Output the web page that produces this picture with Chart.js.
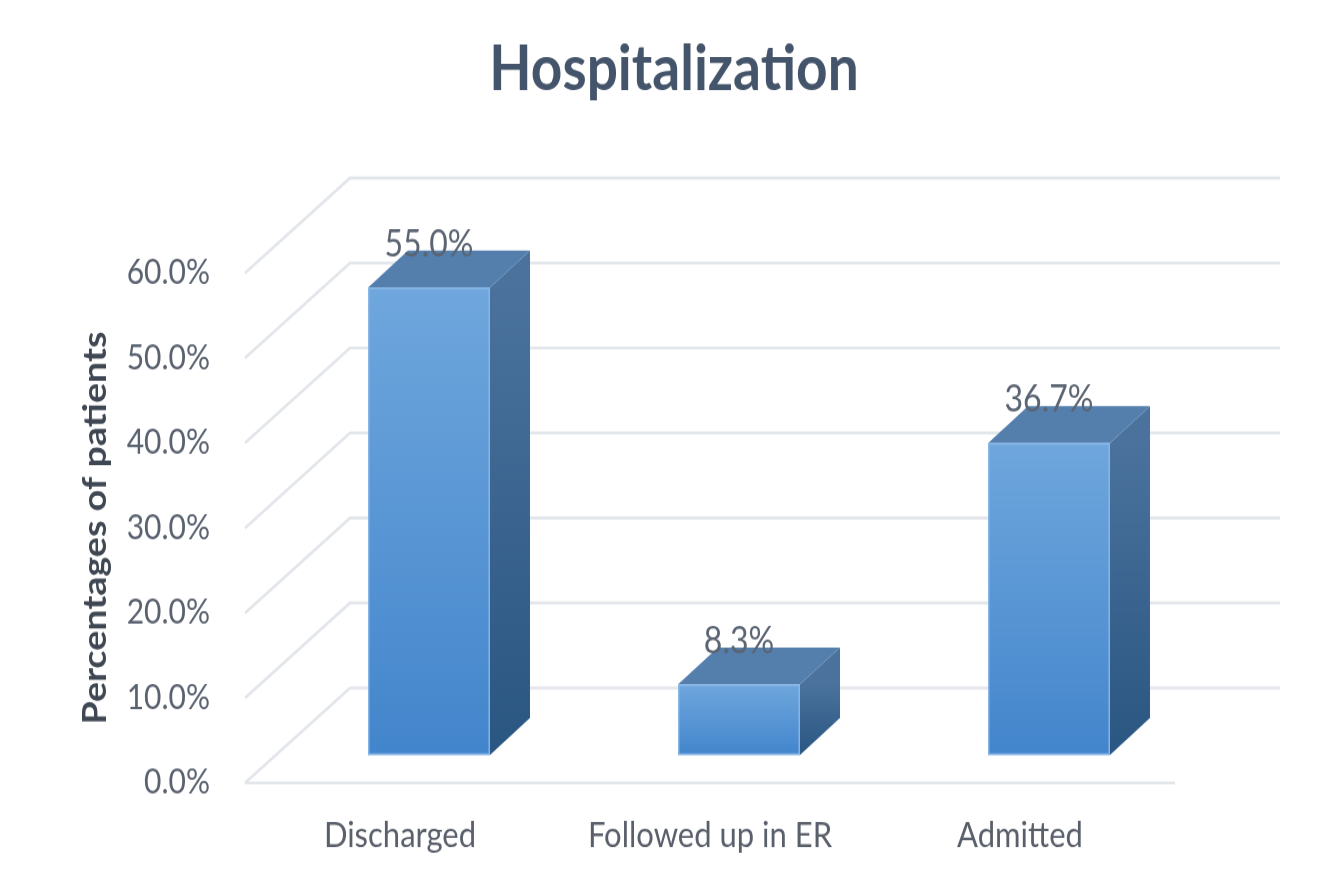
<!DOCTYPE html>
<html><head><meta charset="utf-8">
<script src="https://cdn.jsdelivr.net/npm/chart.js@4.4.1/dist/chart.umd.min.js"></script>
<style>
html,body{margin:0;padding:0;background:#fff;overflow:hidden;}
#wrap{position:absolute;left:0;top:0;width:1331px;height:764px;transform:scaleY(1.14);transform-origin:0 0;}
</style></head><body>
<div id="wrap"><canvas id="c"></canvas></div>
<script>
const categories = ['Discharged', 'Followed up in ER', 'Admitted'];
const values = [55.0, 8.3, 36.7];
const valueLabels = ['55.0%', '8.3%', '36.7%'];
const yTicks = [0, 10, 20, 30, 40, 50, 60];
const chartTitle = 'Hospitalization';
const yTitle = 'Percentages of patients';

const K = 1.14;
const DEPTH = {x: 105, y: -95 / K};
const BAR_OFF = {x: 29, y: -28 / K};
const BAR_DEPTH = {x: 40, y: -37 / K};
const PAD_LEFT = 60;
const TITLE_LEFT = 173;

const threeD = {
  id: 'threeD',
  afterLayout(chart) {
    const tb = chart.titleBlock;
    if (tb) { tb.left = TITLE_LEFT; tb.right = chart.chartArea.right; }
  },
  beforeDatasetsDraw(chart) {
    const {ctx, chartArea: a, scales: {y}} = chart;
    ctx.save();
    ctx.strokeStyle = '#E2E5EA';
    ctx.lineWidth = 2.6;
    y.ticks.forEach(t => {
      const py = y.getPixelForValue(t.value);
      ctx.beginPath();
      ctx.moveTo(a.left, py);
      ctx.lineTo(a.left + DEPTH.x, py + DEPTH.y);
      ctx.lineTo(a.right + DEPTH.x, py + DEPTH.y);
      ctx.stroke();
    });
    const p0 = y.getPixelForValue(0);
    ctx.beginPath();
    ctx.moveTo(a.left, p0);
    ctx.lineTo(a.right, p0);
    ctx.stroke();
    ctx.restore();
  },
  afterDatasetsDraw(chart) {
    const ctx = chart.ctx;
    const meta = chart.getDatasetMeta(0);
    ctx.save();
    meta.data.forEach((bar, i) => {
      const {x, y, base, width} = bar.getProps(['x', 'y', 'base', 'width'], true);
      const l = x - width / 2 + BAR_OFF.x, r = x + width / 2 + BAR_OFF.x;
      const t = y + BAR_OFF.y, b = base + BAR_OFF.y;
      const dx = BAR_DEPTH.x, dy = BAR_DEPTH.y;
      let g = ctx.createLinearGradient(0, t, 0, b);
      g.addColorStop(0, '#4A729C');
      g.addColorStop(1, '#2A5682');
      ctx.fillStyle = g;
      ctx.beginPath();
      ctx.moveTo(r, t); ctx.lineTo(r + dx, t + dy); ctx.lineTo(r + dx, b + dy); ctx.lineTo(r, b);
      ctx.closePath(); ctx.fill();
      ctx.fillStyle = '#547FAD';
      ctx.beginPath();
      ctx.moveTo(l, t); ctx.lineTo(l + dx, t + dy); ctx.lineTo(r + dx, t + dy); ctx.lineTo(r, t);
      ctx.closePath(); ctx.fill();
      g = ctx.createLinearGradient(0, t, 0, b);
      g.addColorStop(0, '#6FA7DD');
      g.addColorStop(1, '#4385CC');
      ctx.fillStyle = g;
      ctx.fillRect(l, t, r - l, b - t);
      ctx.strokeStyle = 'rgba(140,185,232,0.9)';
      ctx.lineWidth = 1.5;
      ctx.strokeRect(l + 0.75, t + 0.75, r - l - 1.5, b - t - 1.5);
      ctx.fillStyle = '#5B6472';
      ctx.font = '32px Lato';
      ctx.textAlign = 'center';
      ctx.textBaseline = 'middle';
      ctx.fillText(valueLabels[i], (l + r) / 2, t - 43 / K);
    });
    ctx.restore();
  }
};

new Chart(document.getElementById('c'), {
  type: 'bar',
  data: {
    labels: categories,
    datasets: [{
      data: values,
      backgroundColor: 'rgba(0,0,0,0)',
      borderWidth: 0,
      barPercentage: 0.3935,
      categoryPercentage: 1
    }]
  },
  options: {
    responsive: true,
    maintainAspectRatio: false,
    animation: false,
    layout: {padding: {left: PAD_LEFT, right: 156, top: 0, bottom: 0}},
    plugins: {
      legend: {display: false},
      tooltip: {enabled: false},
      title: {
        display: true, text: chartTitle, color: '#44546A',
        font: {family: 'Lato', size: 55, weight: 'bold'},
        padding: {top: 28.4, bottom: 145.1}
      }
    },
    scales: {
      x: {
        grid: {display: false, drawTicks: false},
        border: {display: false},
        ticks: {color: '#5A606B', font: {family: 'Lato', size: 31}, padding: 28},
        afterFit(s) { s.height = 764 - 686.8; }
      },
      y: {
        min: 0, max: 60,
        grid: {display: false, drawTicks: false},
        border: {display: false},
        afterBuildTicks(s) { s.ticks = yTicks.map(v => ({value: v})); },
        ticks: {color: '#5A6270', font: {family: 'Lato', size: 30}, padding: 35, callback: v => v.toFixed(1) + '%'},
        title: {
          display: true, text: yTitle, color: '#3F4753',
          font: {family: 'Lato', size: 33, weight: 'bold'},
          padding: {top: 95 - PAD_LEFT - 19.8, bottom: 0}
        },
        afterFit(s) { s.width = 245 - PAD_LEFT; }
      }
    }
  },
  plugins: [threeD]
});
</script>
</body></html>
